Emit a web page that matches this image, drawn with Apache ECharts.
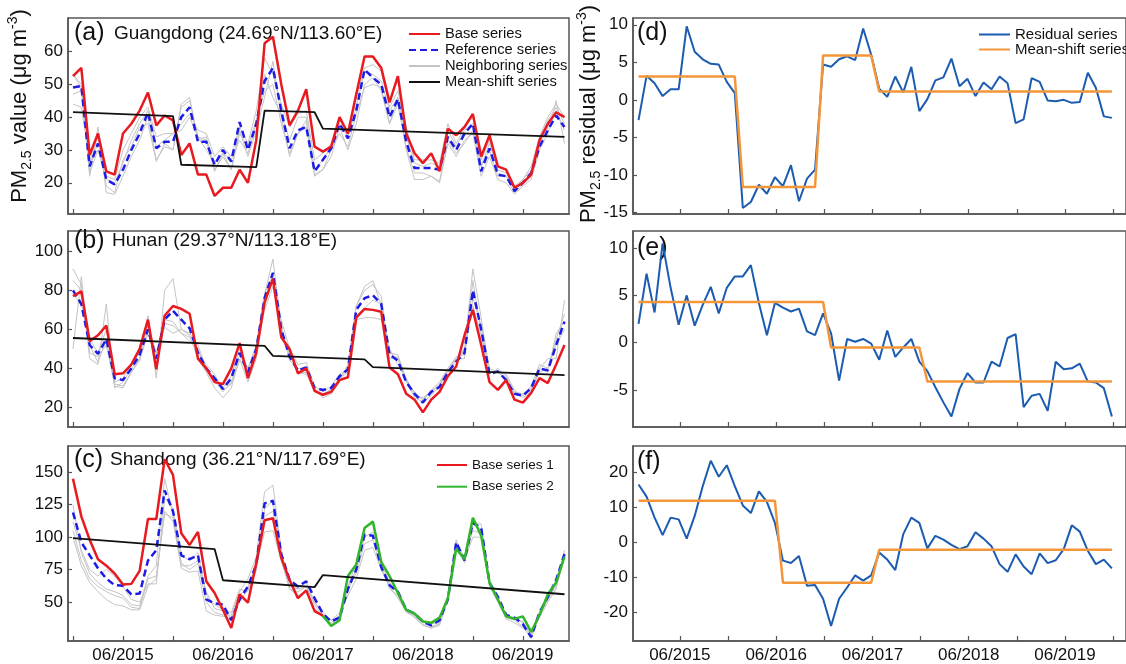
<!DOCTYPE html>
<html lang="en">
<head>
<meta charset="UTF-8">
<title>PM2.5 homogenization example</title>
<script src="https://cdn.jsdelivr.net/npm/echarts@6/dist/echarts.min.js"></script>
<style>
  html, body { margin: 0; padding: 0; background: #fff; }
  #main { width: 1126px; height: 664px; }
</style>
</head>
<body>
<div id="main"></div>
<script>
// x = month index (0 .. 59)
const xTickLabels = ['06/2015', '06/2016', '06/2017', '06/2018', '06/2019'];

// (a) Guangdong
const aBase = [52.5,55,28.5,35,23.5,22.5,35,38,42,47.5, 37.5,40.5,39,28.5,32,22.5,22.5,16,18.5,18.5,
  24,20,33,62.5,64.5,50,37.5,42,48.5,31, 29.5,31,40,35,47,58.5,58.5,55,44.5,52.5,
  35,29,26,29,23.5,36.5,34.5,37,41,28, 34.5,25,24,18.5,20,22.5,33,38,41.5,40];
const aRef = [49,49.5,25,32,21,19.5,24,30,35,41.5, 30.5,32.5,32.5,40,43,32.5,32.5,25.5,30,26.5,
  38.5,30,38,51,55,42,30.5,36,37,23.5, 27,30.5,38,33.5,42,54.5,52,50,40,45.5,
  32.5,24.5,24.5,24.5,24,34,30,35,38,23.5, 30.5,22.5,22,17.5,20,23,31,36,40.5,37];
const aNeighbors = [
  [53,50,22,37,17,16.5,22,28,33,40, 27,31,30,44,46,33,34,24,28,24, 36,28,36,46,57,40,28,35,39,22,
   24,28,37,30,38,50,52,48,38,46, 30,21,21,22,20,32,28,33,35,22, 28,21,20,16.5,19,21,30,35,45,32],
  [44,43,27,34,19,17,27,31,37,38, 26.5,32,30,43,45,34,33,23.5,29,24, 35,31,39,48,50,38,29,35,37,22.5,
   24,30,35,31,41,49,50,49,38,44, 30.5,23,23,22,20.5,33,29,32,36,25, 30,22,22,17,19.5,22,31,37,42,36],
  [47,48,23,30,21,20,26,33,38,42, 31,33,35,36,40,34,30,26,29,27, 33,29,38,53,46,41,33,40,40,24,
   27,31,38,34,43,54,53,51,42,46, 34,26,25,26,25,36,31,36,38,25, 32,24,23,18,21,24,33,39,43,38],
  [53,49,26,32,22,21,30,35,40,43, 34,35,35,38,41,36,35,28,31,28, 37,32,42,58,53,44,37,41,42,27,
   29,32,39,36,46,55,56,54,43,48, 37,27,27,27,26,38,32,37,40,27, 33,25,24,19,21,25,34,40,44,40]
];
const aShiftX = [0, 12, 13, 22, 23, 29, 30, 59];
const aShiftY = [41.5, 40.3, 25.5, 24.8, 42.0, 41.5, 36.5, 34.0];

// (b) Hunan
const bBase = [77,79.5,54,57,62,37,37.5,42,50,65, 39.5,67,72,70.5,68,45,40,33,32,40,
  53,35,48,74,86,56,50,37.5,40,28.5, 26.5,28,34,35.5,66,70.5,70,69,40.5,37,
  27,24,17.5,24,28,36,41,57,70,52, 33,29,34,24,22.5,27.5,35,32.5,42,52];
const bRef = [80,73,52,47.5,55,35,34,40,47,60, 45,65,69.5,65,60.5,48,40,35,29.5,35,
  48,38,50,76,89,60,46,39,40.5,30, 29,30,36,39.5,70,76,77.5,73,47,44,
  33,27,22.5,28,30.5,38,43.5,48,80,60, 37,38.5,34,27,26,30,40,39,52,64];
const bNeighbors = [
  [91,83,45,42,73,30,33,40,45,67, 35,80,86,60,57,45,38,30,25,30, 45,33,45,78,96,62,44,40,39,30,
   25,27,33,42,72,82,85,72,50,42, 34,25,23,26,31,38,45,50,91,66, 38,38,37,29,25,28,40,45,45,75],
  [50,87,48,46,52,32,31,38,44,58, 45,65,64,58,56,48,42,37,29,32, 44,40,52,78,88,57,48,38,38,28,
   26,30,35,41,72,80,83,77,45,46, 35,26,25,28,32,40,45,45,85,58, 38,39,33,27,26,31,42,40,55,68],
  [85,80,55,48,60,33,35,42,48,62, 48,63,62,58,54,50,39,34,28,33, 47,38,50,72,86,65,50,42,43,31,
   28,31,37,40,67,71,75,73,48,47, 34,27,24,29,33,40,46,47,76,62, 40,38,35,28,27,30,40,38,58,64],
  [78,73,52,43,55,31,30,38,45,60, 47,61,58,60,58,52,40,35,30,36, 50,40,50,70,82,60,47,38,37,29,
   27,29,35,38,65,66,66,65,48,45, 33,28,24,28,31,39,44,49,72,57, 37,40,36,27,26,29,38,40,52,60]
];
const bShiftX = [0, 23, 24, 35, 36, 59];
const bShiftY = [55.6, 51.6, 46.4, 44.6, 40.7, 36.6];

// (c) Shandong
const cBase1 = [145,116,98,83,78,72,63.5,64,74,114, 114,160,148,103,94,104,66,57,44,30,
  56,49.5,80,113,114.5,84,67,53,59,43, 39.5];                      // months 0..30
const cBase2 = [39.5,31.5,36,70,79,107,112,81,70,57, 44,41,35,34,38,53,91,83,115,101,
  65,52,39,37,39,27,40,56,65,85];                                   // months 30..59
const cRef = [119,96,86,76,68,63,62.5,56,56.5,82, 90,136,120,86,83,86,52,49,48,36,
  52,62,79,126,128,87,67,62,66,53, 41,35,38,60,75,102,101,77,63,58,
  44,41,35,32,36,52,96,82,111,107, 65,54,40,38,33,23,42,54,67,87];
const cNeighbors = [
  [125,88,72,65,60,58,55,48,47,70, 78,145,118,80,75,80,50,42,40,40, 58,68,85,135,140,90,60,58,62,48,
   38,33,38,62,80,108,110,78,60,55, 42,39,33,30,34,55,98,80,112,110, 65,52,38,36,31,22,40,52,62,90],
  [105,82,68,62,58,55,53,46,45,68, 70,118,115,76,73,74,43,40,39,38, 55,62,78,104,105,82,60,55,58,45,
   38,34,40,55,68,90,92,75,62,53, 43,38,32,30,32,52,95,82,100,100, 62,50,37,34,30,26,38,50,60,86],
  [100,78,65,58,52,48,47,44,44,62, 68,120,112,78,78,82,58,45,43,38, 50,60,74,116,120,84,62,60,65,50,
   40,36,42,62,72,95,98,76,64,57, 45,40,35,33,35,54,92,84,105,103, 63,52,39,37,35,25,40,52,64,84],
  [112,90,75,70,75,70,62,52,50,64, 64,130,122,86,82,88,55,48,44,42, 60,58,80,122,128,88,66,60,62,50,
   42,36,39,58,76,100,104,80,65,58, 44,42,36,31,33,53,97,84,110,106, 66,54,40,38,34,24,42,54,66,88]
];
const cShiftX = [0, 17, 18, 29, 30, 59];
const cShiftY = [99.2, 90.8, 66.8, 61.5, 70.8, 56.0];

// (d)-(f) residuals (base minus reference) and their mean-shift fits
const dResidual = [-2.7,3.2,2.2,0.5,1.4,1.4,9.8,6.4,5.4,4.8, 4.7,2.4,0.9,-14.4,-13.6,-11.3,-12.5,-10.3,-11.5,-8.7,
  -13.5,-10.5,-9.3,4.7,4.4,5.4,5.8,5.3,9.5,6.0, 1.5,0.4,3.1,1.0,4.4,-1.5,0.1,2.6,3.0,5.5,
  1.8,2.8,0.5,2.3,1.4,3.1,2.2,-3.1,-2.6,2.9, 2.4,-0.1,-0.2,0.0,-0.4,-0.3,3.6,1.6,-2.2,-2.4];
const dShiftX = [0, 12, 13, 22, 23, 29, 30, 59];
const dShiftY = [3.1, 3.1, -11.6, -11.6, 5.9, 5.9, 1.1, 1.1];

const eResidual = [2.0,7.3,3.2,10.5,5.8,1.9,5.0,1.8,4.0,5.9, 3.1,5.8,7.0,7.0,8.2,4.2,0.8,4.2,3.7,3.3,
  3.6,1.2,0.8,3.1,1.0,-4.0,0.4,0.1,0.4,-0.1, -1.8,1.3,-1.5,-0.5,0.4,-2.0,-3.0,-4.7,-6.3,-7.8,
  -4.9,-3.2,-4.2,-4.2,-2.0,-2.5,0.5,0.9,-6.8,-5.6, -5.4,-7.2,-2.0,-2.8,-2.7,-2.2,-4.1,-4.2,-4.8,-7.8];
const eShiftX = [0, 23, 24, 35, 36, 59];
const eShiftY = [4.3, 4.3, -0.5, -0.5, -4.1, -4.1];

const fResidual = [16.5,13,7,2,7,6.5,1,7.5,16,23.3, 18.7,22,16,10.5,8.3,14.5,11.5,5.5,-5.3,-6,
  -4,-12.5,-12.3,-16.2,-24,-16.2,-13,-9.5,-11,-9.5, -3,-5,-8,2.3,7,5.5,-1.8,1.8,0.7,-0.8,
  -2,-1.2,2.8,1,-1.2,-6.3,-8.5,-3.5,-7,-9.2, -3.2,-6,-5.2,-2,4.8,3,-2.5,-6.3,-5,-7.5];
const fShiftX = [0, 17, 18, 29, 30, 59];
const fShiftY = [11.8, 11.8, -11.6, -11.6, -2.2, -2.2];

const yTicks = [
  [20, 30, 40, 50, 60], [20, 40, 60, 80, 100], [50, 75, 100, 125, 150],
  [-15, -10, -5, 0, 5, 10], [-5, 0, 5, 10], [-20, -10, 0, 10, 20]
];
const yRanges = [[10.5, 70.2], [10, 110.4], [20, 170.2], [-15.2, 10.9], [-8.9, 11.8], [-28.3, 27.5]];

// ---------- layout / style ----------
const FONT = '"Liberation Sans", Arial, Helvetica, sans-serif';
const RED = '#e8191f', BLUE = '#1c1ce6', GRAY = '#c4c4c4', BLACK = '#111111',
      GREEN = '#31b52b', RBLUE = '#1b5cb0', ORANGE = '#f3963a', FRAME = '#555555';

const rowTops = [18, 231, 446];
const rowH = 196;
const leftCol = { left: 68, width: 501, min: -0.6, max: 59.54 };
const rightCol = { left: 633, width: 510, min: -0.69, max: 60.76 };
// tick positions (month index)
const leftTicks = [0, 6, 12, 18, 24, 30, 36, 42, 48, 54];
const leftLabelPos = [6, 18, 30, 42, 54];
const rightTicks = [5.15, 11.15, 17.15, 23.15, 29.15, 35.15, 41.15, 47.15, 53.15, 59.15];
const rightLabelPos = [5.15, 17.15, 29.15, 41.15, 53.15];

const pairs = (arr, start) => arr.map((v, i) => [i + (start || 0), v]);
const zip = (xs, ys) => xs.map((x, i) => [x, ys[i]]);

const grids = [], xAxes = [], yAxes = [];
for (let p = 0; p < 6; p++) {
  const col = p < 3 ? leftCol : rightCol;
  const row = p % 3;
  grids.push({
    left: col.left, top: rowTops[row], width: col.width, height: rowH,
    show: true, borderColor: FRAME, borderWidth: 1.5, backgroundColor: 'transparent'
  });
  const ticks = p < 3 ? leftTicks : rightTicks;
  const labelPos = p < 3 ? leftLabelPos : rightLabelPos;
  xAxes.push({
    type: 'value', gridIndex: p, min: col.min, max: col.max,
    axisLine: { show: true, onZero: false, lineStyle: { color: FRAME, width: 1.5 } },
    axisTick: { show: true, inside: true, length: 5, customValues: ticks, lineStyle: { color: FRAME, width: 1.2 } },
    axisLabel: {
      show: row === 2, customValues: labelPos, margin: 6,
      fontFamily: FONT, fontSize: 17, color: '#111',
      formatter: v => xTickLabels[labelPos.indexOf(v)] || ''
    },
    splitLine: { show: false }
  });
  yAxes.push({
    type: 'value', gridIndex: p, min: yRanges[p][0], max: yRanges[p][1],
    axisLine: { show: true, onZero: false, lineStyle: { color: FRAME, width: 1.5 } },
    axisTick: { show: true, inside: true, length: 4, customValues: yTicks[p], lineStyle: { color: FRAME, width: 1.2 } },
    axisLabel: { customValues: yTicks[p], margin: 5, fontFamily: FONT, fontSize: 17, color: '#111' },
    splitLine: { show: false }
  });
}

function line(name, gi, data, color, width, type, z) {
  return {
    type: 'line', name: name, xAxisIndex: gi, yAxisIndex: gi, data: data,
    symbol: 'none', silent: true, z: z,
    lineStyle: { color: color, width: width, type: type || 'solid' },
    itemStyle: { color: color }
  };
}

const series = [];
const panels = [
  { base: aBase, ref: aRef, nb: aNeighbors, sx: aShiftX, sy: aShiftY },
  { base: bBase, ref: bRef, nb: bNeighbors, sx: bShiftX, sy: bShiftY },
  { base: null, ref: cRef, nb: cNeighbors, sx: cShiftX, sy: cShiftY }
];
panels.forEach((pn, gi) => {
  pn.nb.forEach(n => series.push(line('Neighboring series', gi, pairs(n), GRAY, 1, 'solid', 2)));
  series.push(line('Reference series', gi, pairs(pn.ref), BLUE, 2.5, [7, 4], 3));
  if (pn.base) series.push(line('Base series', gi, pairs(pn.base), RED, 2.5, 'solid', 4));
  series.push(line('Mean-shift series', gi, zip(pn.sx, pn.sy), BLACK, 1.8, 'solid', 5));
});
series.push(line('Base series 1', 2, pairs(cBase1, 0), RED, 2.5, 'solid', 4));
series.push(line('Base series 2', 2, pairs(cBase2, 30), GREEN, 2.5, 'solid', 4));

[[dResidual, dShiftX, dShiftY], [eResidual, eShiftX, eShiftY], [fResidual, fShiftX, fShiftY]]
  .forEach((r, i) => {
    series.push(line('Residual series', 3 + i, pairs(r[0]), RBLUE, 2, 'solid', 3));
    series.push(line('Mean-shift fit', 3 + i, zip(r[1], r[2]), ORANGE, 2.5, 'solid', 4));
  });

// legend icons: line only, hide the marker circle
const noMarker = { opacity: 0 };
const legends = [
  {
    left: 403, top: 21, orient: 'vertical', itemWidth: 31, itemHeight: 14, itemGap: 0,
    selectedMode: false, itemStyle: noMarker,
    textStyle: { fontFamily: FONT, fontSize: 14.7, color: '#111', lineHeight: 16 },
    data: ['Base series', 'Reference series', 'Neighboring series', 'Mean-shift series']
  },
  {
    left: 431, top: 453, orient: 'vertical', itemWidth: 30, itemHeight: 12, itemGap: 7.7,
    selectedMode: false, itemStyle: noMarker,
    textStyle: { fontFamily: FONT, fontSize: 13.5, color: '#111', lineHeight: 14 },
    data: ['Base series 1', 'Base series 2']
  },
  {
    left: 973, top: 22, orient: 'vertical', itemWidth: 31, itemHeight: 12, itemGap: 0,
    selectedMode: false, itemStyle: noMarker,
    textStyle: { fontFamily: FONT, fontSize: 15, color: '#111', lineHeight: 14 },
    data: ['Residual series', 'Mean-shift fit'],
    formatter: n => n === 'Mean-shift fit' ? 'Mean-shift series' : n
  }
];

function txt(x, y, s, size) {
  return {
    type: 'text', x: x, y: y, silent: true,
    style: { text: s, fontFamily: FONT, fontSize: size, fill: '#111', align: 'left', verticalAlign: 'middle' }
  };
}
const titleRich = {
  m: { fontFamily: FONT, fontSize: 22, lineHeight: 28, fill: '#111' },
  s: { fontFamily: FONT, fontSize: 14, lineHeight: 14, verticalAlign: 'bottom', fill: '#111' },
  p: { fontFamily: FONT, fontSize: 14, lineHeight: 14, verticalAlign: 'top', fill: '#111' }
};
function yTitle(x, y, word) {
  return {
    type: 'text', x: x, y: y, rotation: Math.PI / 2, silent: true,
    style: {
      text: '{m|PM}{s|2.5}{m| ' + word + ' (μg m}{p|-3}{m|)}',
      rich: titleRich, align: 'center', verticalAlign: 'middle'
    }
  };
}

const graphic = [
  yTitle(20, 106, 'value'),
  yTitle(589, 114, 'residual'),
  txt(74, 33, '(a)', 25), txt(114, 34, 'Guangdong (24.69°N/113.60°E)', 19),
  txt(74, 241, '(b)', 25), txt(112, 241, 'Hunan (29.37°N/113.18°E)', 19),
  txt(74, 460, '(c)', 25), txt(110, 460, 'Shandong (36.21°N/117.69°E)', 19),
  txt(637, 33, '(d)', 25), txt(637, 248, '(e)', 25), txt(637, 462, '(f)', 25)
];

const chart = echarts.init(document.getElementById('main'));
chart.setOption({
  animation: false,
  backgroundColor: '#ffffff',
  grid: grids,
  xAxis: xAxes,
  yAxis: yAxes,
  legend: legends,
  graphic: graphic,
  series: series
});
</script>
</body>
</html>
